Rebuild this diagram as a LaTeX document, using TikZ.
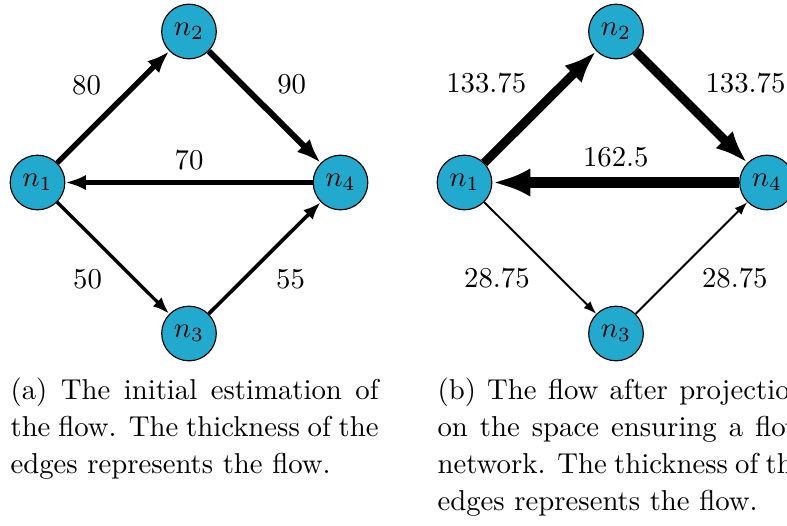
\documentclass[tikz,border=0pt]{standalone}
\usepackage{tikz}
\usetikzlibrary{arrows.meta,positioning}
\usepackage{xcolor}
\definecolor{nodefill}{RGB}{33,170,205}

\begin{document}
\begin{tikzpicture}[
  x=0.3478pt, y=-0.3478pt,
  vtx/.style={circle, draw, fill=nodefill, minimum size=19pt, inner sep=0pt},
  flow/.style={-{Latex[length=2.6pt 2.8]}, line width=#1pt/43},
  captext/.style={text width=128pt, align=justify, inner sep=0pt, anchor=base west, font=\fontsize{10}{12.9}\selectfont}
]
\clip (0,0) rectangle (787,525);
% (a) initial estimation
\node[vtx] (a1) at (37.5,182.5) {$n_1$};
\node[vtx] (a2) at (189,31.5) {$n_2$};
\node[vtx] (a3) at (189,333.5) {$n_3$};
\node[vtx] (a4) at (340.5,182.5) {$n_4$};
\draw[flow=80] (a1) -- node[above left] (la12) {80} (a2);
\draw[flow=90] (a2) -- node[above right] (la24) {90} (a4);
\draw[flow=70] (a4) -- node[above] (la41) {70} (a1);
\draw[flow=50] (a1) -- node[below left] (la13) {50} (a3);
\draw[flow=55] (a3) -- node[below right] (la34) {55} (a4);
\node[captext] (capa) at (10,399) {(a) The initial estimation of the flow. The thickness of the edges represents the flow.};
% (b) after projection
\node[vtx] (b1) at (464.5,182.5) {$n_1$};
\node[vtx] (b2) at (616,31.5) {$n_2$};
\node[vtx] (b3) at (616,333.5) {$n_3$};
\node[vtx] (b4) at (767,182.5) {$n_4$};
\draw[flow=133.75] (b1) -- node[above left] (lb12) {133.75} (b2);
\draw[flow=133.75] (b2) -- node[above right] (lb24) {133.75} (b4);
\draw[flow=162.5] (b4) -- node[above] (lb41) {162.5} (b1);
\draw[flow=28.75] (b1) -- node[below left] (lb13) {28.75} (b3);
\draw[flow=28.75] (b3) -- node[below right] (lb34) {28.75} (b4);
\node[captext] (capb) at (437,399) {(b) The flow after projection on the space ensuring a flow network. The thickness of the edges represents the flow.};
\end{tikzpicture}
\end{document}
